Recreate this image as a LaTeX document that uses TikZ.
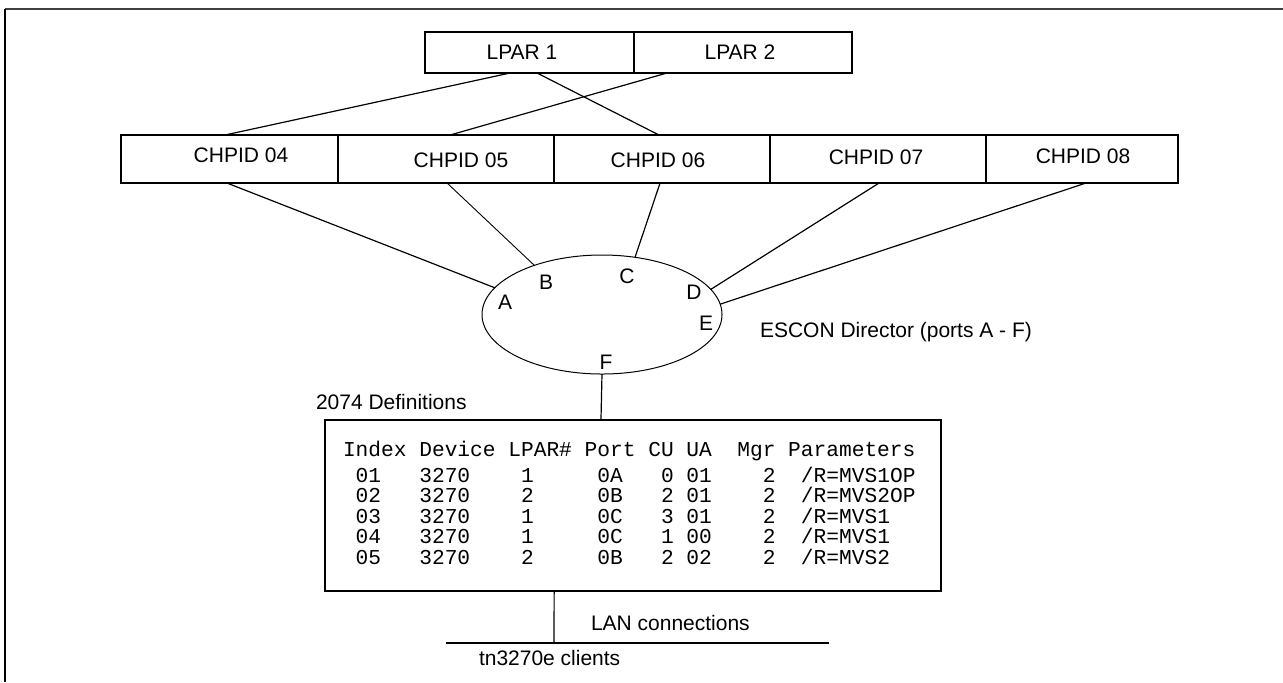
\documentclass[tikz,border=0pt]{standalone}
\usepackage{fontspec}
\setmainfont{Liberation Sans}
\newfontfamily\tablefont{Liberation Mono}
\usetikzlibrary{calc,shapes.geometric}
\begin{document}
\begin{tikzpicture}[x=0.5pt,y=-0.5pt,
  box/.style={draw, line width=1pt, rectangle, inner sep=0pt, outer sep=0pt},
  txt/.style={inner sep=0pt, outer sep=0pt, anchor=base, font=\fontsize{10.5}{12}\selectfont},
  txtw/.style={txt, anchor=base west},
  mono/.style={inner sep=0pt, outer sep=0pt, anchor=base west, font=\tablefont\fontsize{10.6}{12}\selectfont},
  conn/.style={line width=0.6pt},
  frame/.style={line width=1pt}]
\useasboundingbox (0,0) rectangle (1283,682);
% frame
\coordinate (fTL) at (5,9);
\coordinate (fTR) at (1283,9);
\coordinate (fBL) at (5,682);
\draw[frame, draw=black!75] (fTL) -- (fTR);
\draw[frame] (fTL) -- (fBL);
% LPAR boxes
\node[box, minimum width=104.5pt, minimum height=20.5pt] (lp1) at (529.5,52.5) {};
\node[box, minimum width=109pt, minimum height=20.5pt] (lp2) at (743,52.5) {};
\node[txt] (tl1) at (522,59.5) {LPAR 1};
\node[txt] (tl2) at (740,59.5) {LPAR 2};
% CHPID boxes
\node[box, minimum width=108.5pt, minimum height=24pt] (c04) at (229.5,159) {};
\node[box, minimum width=108pt, minimum height=24pt] (c05) at (446,159) {};
\node[box, minimum width=108pt, minimum height=24pt] (c06) at (662,159) {};
\node[box, minimum width=108pt, minimum height=24pt] (c07) at (878,159) {};
\node[box, minimum width=96pt, minimum height=24pt] (c08) at (1082,159) {};
\node[txt] (t04) at (241,162.5) {CHPID 04};
\node[txt] (t05) at (461,167.5) {CHPID 05};
\node[txt] (t06) at (658,167.5) {CHPID 06};
\node[txt] (t07) at (876,164.5) {CHPID 07};
\node[txt] (t08) at (1083,163.5) {CHPID 08};
% LPAR to CHPID connectors
\draw[conn] ($(lp1.south west)!0.407!(lp1.south east)$) -- ($(c04.north west)!0.479!(c04.north east)$);
\draw[conn] ($(lp1.south west)!0.536!(lp1.south east)$) -- ($(c06.north west)!0.486!(c06.north east)$);
\draw[conn] ($(lp2.south west)!0.151!(lp2.south east)$) -- ($(c05.north west)!0.519!(c05.north east)$);
% ESCON director
\node[draw, ellipse, line width=0.5pt, minimum width=120pt, minimum height=59.5pt, inner sep=0pt, outer sep=0pt] (esc) at (602,314.5) {};
\draw[conn] ($(c04.south west)!0.488!(c04.south east)$) -- (esc.166);
\draw[line width=0.45pt] ($(c05.south west)!0.505!(c05.south east)$) -- (esc.144.7);
\draw[conn] ($(c06.south west)!0.491!(c06.south east)$) -- (esc.60.9);
\draw[conn] ($(c07.south west)!0.505!(c07.south east)$) -- (esc.13.9);
\draw[conn] ($(c08.south west)!0.521!(c08.south east)$) -- (esc.5.6);
\node[txt] (pA) at (505,309.5) {A};
\node[txt] (pB) at (546,289.5) {B};
\node[txt] (pC) at (627,283.5) {C};
\node[txt] (pD) at (694,299.5) {D};
\node[txt] (pE) at (706,330.5) {E};
\node[txt] (pF) at (606,369.5) {F};
\node[txtw] (escl) at (760,337.5) {ESCON Director (ports A - F)};
% definitions box
\node[txtw] (defl) at (316,409) {2074 Definitions};
\node[box, minimum width=308pt, minimum height=85.5pt] (defs) at (633,505.5) {};
\draw[conn] (esc.south) -- ($(defs.north west)!0.448!(defs.north east)$);
\node[mono] (h0) at (343,456) {Index~Device~LPAR\#~Port~CU~UA~~Mgr~Parameters};
\node[mono] (r1) at (343,482) {~01~~~3270~~~~1~~~~~0A~~~0~01~~~~2~~/R=MVS1OP};
\node[mono] (r2) at (343,502.5) {~02~~~3270~~~~2~~~~~0B~~~2~01~~~~2~~/R=MVS2OP};
\node[mono] (r3) at (343,523) {~03~~~3270~~~~1~~~~~0C~~~3~01~~~~2~~/R=MVS1};
\node[mono] (r4) at (343,543.5) {~04~~~3270~~~~1~~~~~0C~~~1~00~~~~2~~/R=MVS1};
\node[mono] (r5) at (343,564) {~05~~~3270~~~~2~~~~~0B~~~2~02~~~~2~~/R=MVS2};
% LAN
\coordinate (lanL) at (446,643);
\coordinate (lanR) at (829,643);
\coordinate (lanJ) at (554,643);
\draw[line width=1pt] (lanL) -- (lanR);
\draw[conn] ($(defs.south west)!0.372!(defs.south east)$) -- (lanJ);
\node[txtw] (lanl) at (591,630.5) {LAN connections};
\node[txtw] (tnl) at (479,665.5) {tn3270e clients};
\end{tikzpicture}
\end{document}
